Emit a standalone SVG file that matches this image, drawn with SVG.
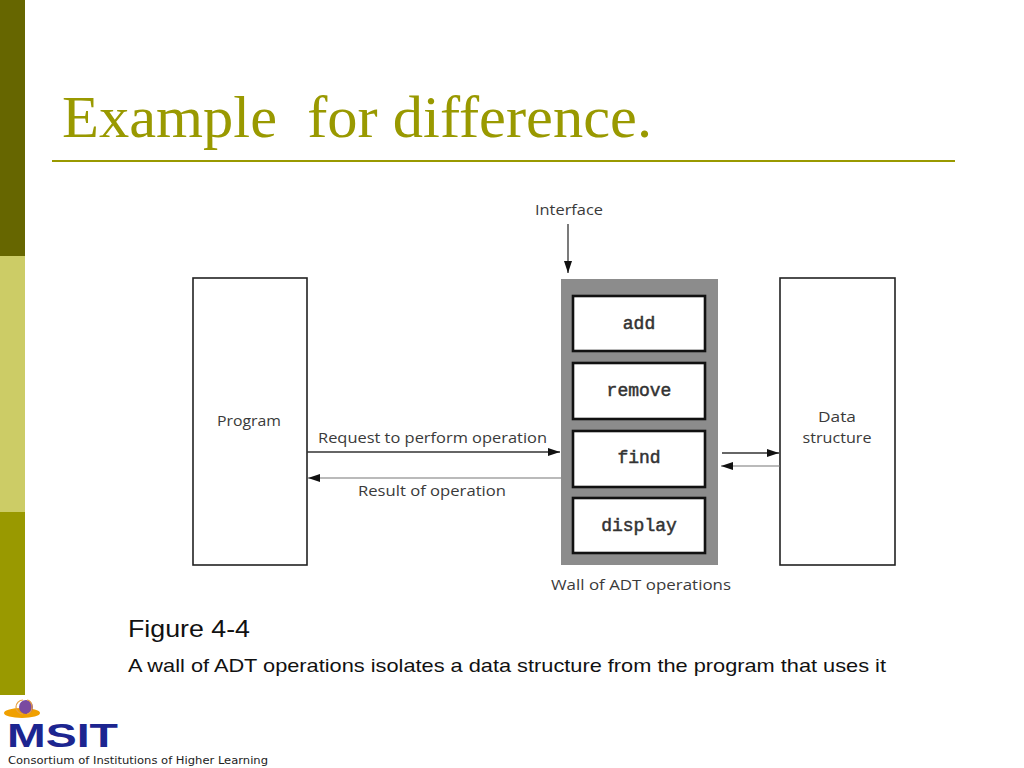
<svg xmlns="http://www.w3.org/2000/svg" width="1024" height="768" viewBox="0 0 1024 768">
<defs>
<style>
.lbl{font-family:"Open Sans","DejaVu Sans",sans-serif;font-size:15px;fill:#3a3a3a}
.op{font-family:"Liberation Mono","DejaVu Sans Mono",monospace;font-size:18px;fill:#333;stroke:#333;stroke-width:0.5;text-anchor:middle}
.box{fill:#fff;stroke:#222;stroke-width:1.6}
.opbox{fill:#fff;stroke:#111;stroke-width:2.6}
.cap{font-family:"Liberation Sans",Arial,sans-serif;fill:#111}
</style>
<marker id="ah" viewBox="0 0 12 8" refX="12" refY="4" markerWidth="12" markerHeight="8" markerUnits="userSpaceOnUse" orient="auto">
<path d="M0,0 L12,4 L0,8 Z" fill="#111"/>
</marker>
</defs>
<rect width="1024" height="768" fill="#fff"/>
<g id="sidebar">
<rect x="0" y="0" width="25" height="256" fill="#666600"/>
<rect x="0" y="256" width="25" height="256" fill="#cccc66"/>
<rect x="0" y="512" width="25" height="183" fill="#999900"/>
</g>
<g id="title">
<text x="62" y="137" font-family="'Liberation Serif','Times New Roman',serif" font-size="60" fill="#999900" textLength="590" lengthAdjust="spacingAndGlyphs" xml:space="preserve">Example  for difference.</text>
<rect x="52" y="160" width="903" height="2" fill="#999900"/>
</g>
<g id="program">
<rect class="box" x="193" y="278" width="114" height="287"/>
<text class="lbl" x="249" y="426" text-anchor="middle" textLength="64" lengthAdjust="spacingAndGlyphs">Program</text>
</g>
<g id="wall">
<rect x="561" y="279" width="157" height="286" fill="#8c8c8c"/>
<text class="lbl" x="551" y="590" textLength="180" lengthAdjust="spacingAndGlyphs">Wall of ADT operations</text>
</g>
<g id="op-add">
<rect class="opbox" x="573" y="296" width="132" height="55"/>
<text class="op" x="639" y="329">add</text>
</g>
<g id="op-remove">
<rect class="opbox" x="573" y="363" width="132" height="56"/>
<text class="op" x="639" y="396">remove</text>
</g>
<g id="op-find">
<rect class="opbox" x="573" y="431" width="132" height="56"/>
<text class="op" x="639" y="463">find</text>
</g>
<g id="op-display">
<rect class="opbox" x="573" y="498" width="132" height="55"/>
<text class="op" x="639" y="531">display</text>
</g>
<g id="datastructure">
<rect class="box" x="780" y="278" width="115" height="287"/>
<text class="lbl" x="837" y="422" text-anchor="middle" textLength="38" lengthAdjust="spacingAndGlyphs">Data</text>
<text class="lbl" x="837" y="443" text-anchor="middle" textLength="69" lengthAdjust="spacingAndGlyphs">structure</text>
</g>
<g id="interface">
<text class="lbl" x="569" y="215" text-anchor="middle" textLength="68" lengthAdjust="spacingAndGlyphs">Interface</text>
</g>
<g id="connectors">
<line x1="568" y1="224" x2="568" y2="273" stroke="#222" stroke-width="1.2" marker-end="url(#ah)"/>
<line x1="307" y1="452" x2="560" y2="452" stroke="#333" stroke-width="1.6" marker-end="url(#ah)"/>
<text class="lbl" x="318" y="443" textLength="229" lengthAdjust="spacingAndGlyphs">Request to perform operation</text>
<line x1="561" y1="478" x2="308" y2="478" stroke="#777" stroke-width="1.2" marker-end="url(#ah)"/>
<text class="lbl" x="358" y="496" textLength="148" lengthAdjust="spacingAndGlyphs">Result of operation</text>
<line x1="722" y1="453" x2="779" y2="453" stroke="#333" stroke-width="1.6" marker-end="url(#ah)"/>
<line x1="780" y1="466" x2="721" y2="466" stroke="#777" stroke-width="1.2" marker-end="url(#ah)"/>
</g>
<g id="caption">
<text class="cap" x="128" y="637" font-size="24" textLength="122" lengthAdjust="spacingAndGlyphs">Figure 4-4</text>
<text class="cap" x="128" y="672" font-size="19" textLength="758" lengthAdjust="spacingAndGlyphs">A wall of ADT operations isolates a data structure from the program that uses it</text>
</g>
<g id="logo">
<ellipse cx="22" cy="713" rx="18" ry="5" fill="#f0a000"/>
<circle cx="26" cy="707" r="7" fill="#7a4aa0"/>
<path d="M23,700 A7,7 0 0 0 23,714 M27,700 A5,7 0 0 1 27,714" fill="none" stroke="#e8a040" stroke-width="1.2"/>
<text x="7" y="747" font-family="'Liberation Sans',Arial,sans-serif" font-weight="bold" font-size="34" fill="#1c2590" textLength="111" lengthAdjust="spacingAndGlyphs">MSIT</text>
<text x="8" y="764" font-family="'DejaVu Sans',Verdana,sans-serif" font-size="10.5" fill="#222" textLength="260" lengthAdjust="spacingAndGlyphs">Consortium of Institutions of Higher Learning</text>
</g>
</svg>
